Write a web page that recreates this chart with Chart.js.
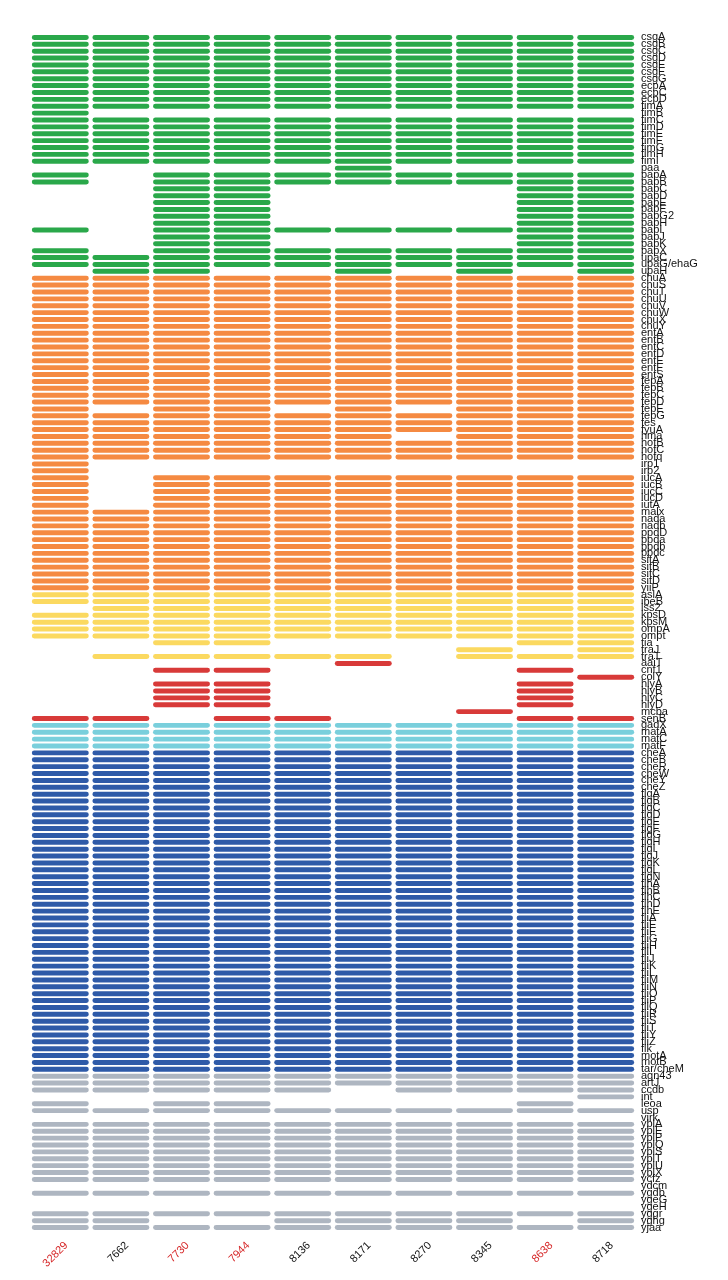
<!DOCTYPE html>
<html>
<head>
<meta charset="utf-8">
<script src="https://cdn.jsdelivr.net/npm/chart.js@4.4.1/dist/chart.umd.min.js"></script>
<style>
  html, body { margin: 0; padding: 0; background: #fff; }
</style>
</head>
<body>
<canvas id="geneChart" width="728" height="1280"></canvas>
<script>
// strains (columns), red ones are highlighted on the axis
const strains = ['32829', '7662', '7730', '7944', '8136', '8171', '8270', '8345', '8638', '8718'];
const redStrains = ['32829', '7730', '7944', '8638'];

// each gene group: names + presence per strain ('1' = present)
const adhesinGenes = ['csgA','csgB','csgC','csgD','csgE','csgF','csgG','ecpA','ecpC','ecpD',
  'fimA','fimB','fimC','fimD','fimE','fimF','fimG','fimH','fimI','paa',
  'papA','papB','papC','papD','papE','papF','papG2','papH','papI','papJ','papK','papX',
  'upaC','upaG/ehaG','upaH'];
const adhesinPresence = ['1111111111','1111111111','1111111111','1111111111','1111111111','1111111111','1111111111','1111111111','1111111111','1111111111',
  '1111111111','1000000000','1111111111','1111111111','1111111111','1111111111','1111111111','1111111111','1111111111','0000010000',
  '1011111111','1011111111','0011000011','0011000011','0011000011','0011000011','0011000011','0011000011','1011111111','0011000011','0011000011','1011111111',
  '1111111111','1111111111','0110010101'];

const ironGenes = ['chuA','chuS','chuT','chuU','chuV','chuW','chuX','chuY',
  'entA','entB','entC','entD','entE','entF','entS','fepA','fepB','fepC','fepD','fepE','fepG','fes','fyuA','hma',
  'hofB','hofC','hofq','irp1','irp2','iucA','iucB','iucC','iucD','iutA','malx','nada','nadb',
  'ppdD','ppda','ppdb','ppdc','sitA','sitB','sitC','sitD','yiiP'];
const ironPresence = ['1111111111','1111111111','1111111111','1111111111','1111111111','1111111111','1111111111','1111111111',
  '1111111111','1111111111','1111111111','1111111111','1111111111','1111111111','1111111111','1111111111','1111111111','1111111111','1111111111','1011010111','1111111111','1111111111','1111111111','1111110111',
  '1111111111','1111111111','1111111111','1000000000','1000000000','1011111111','1011111111','1011111111','1011111111','1011111111','1111111111','1111111111','1111111111',
  '1111111111','1111111111','1111111111','1111111111','1111111111','1111111111','1111111111','1111111111','1111111111'];

const invasionGenes = ['aslA','ibeB','iss2','kpsD','kpsM','ompA','ompt','tia','traJ','traT'];
const invasionPresence = ['1111111111','1111111111','0111111111','1111111111','1111111111','1111111111','1111111111','0011000011','0000000101','0111110111'];

const toxinGenes = ['aaiT','cnf1','colY','hlyA','hlyB','hlyC','hlyD','mcba','senB'];
const toxinPresence = ['0000010000','0011000010','0000000001','0011000010','0011000010','0011000010','0011000010','0000000100','1101100011'];

const regulationGenes = ['gadX','matA','matC','matF'];
const regulationPresence = ['1111111111','1111111111','1111111111','1111111111'];

const motilityGenes = ['cheA','cheB','cheR','cheW','cheY','cheZ',
  'flgA','flgB','flgC','flgD','flgE','flgF','flgG','flgH','flgI','flgJ','flgK','flgL','flgN',
  'flhA','flhB','flhC','flhD','flhE',
  'fliA','fliE','fliF','fliG','fliH','fliI','fliJ','fliK','fliL','fliM','fliN','fliO','fliP','fliQ','fliR','fliS','fliT','fliY','fliZ',
  'flk','motA','motB','tar/cheM'];
const motilityPresence = motilityGenes.map(() => '1111111111');

const otherGenes = ['agn43','artJ','ccdb','int','leoa','usp','virk','yblA','yblE','yblP','yblQ','yblS','yblT','yblU','yblX',
  'ycfz','ydcm','ygdb','ygeG','ygeH','yggr','yghg','yjaa'];
const otherPresence = ['1111111111','1111111111','1111101111','0000000001','1011000010','1111111111','0000000000',
  '1111111111','1111111111','1111111111','1111111111','1111111111','1111111111','1111111111','1111111111',
  '1111111111','0000000000','1111111111','0000000000','0000000000','1111111111','1100111101','1111111111'];

const groups = [
  { genes: adhesinGenes, presence: adhesinPresence, color: '#2aa84a' },
  { genes: ironGenes, presence: ironPresence, color: '#f58a42' },
  { genes: invasionGenes, presence: invasionPresence, color: '#fbd960' },
  { genes: toxinGenes, presence: toxinPresence, color: '#d83a39' },
  { genes: regulationGenes, presence: regulationPresence, color: '#79cfdc' },
  { genes: motilityGenes, presence: motilityPresence, color: '#2e5aa8' },
  { genes: otherGenes, presence: otherPresence, color: '#aeb6c1' }
];

const genes = [];
const presence = [];
const colors = [];
groups.forEach(g => {
  g.genes.forEach((name, i) => {
    genes.push(name);
    presence.push(g.presence[i]);
    colors.push(g.color);
  });
});

const datasets = strains.map((s, col) => ({
  label: s,
  data: presence.map(p => p[col] === '1' ? [col - 0.47, col + 0.47] : null),
  backgroundColor: colors,
  borderRadius: 3,
  borderSkipped: false,
  barPercentage: 0.72,
  categoryPercentage: 1,
  grouped: false
}));

const labelFont = { family: 'Liberation Sans, Arial, sans-serif', size: 11 };

const ctx = document.getElementById('geneChart').getContext('2d');
new Chart(ctx, {
  type: 'bar',
  data: { labels: genes, datasets: datasets },
  options: {
    indexAxis: 'y',
    responsive: false,
    animation: false,
    layout: { padding: { left: 30, top: 34, right: 0, bottom: 0 } },
    plugins: {
      legend: { display: false },
      tooltip: { enabled: false }
    },
    scales: {
      y: {
        type: 'category',
        position: 'right',
        grid: { display: false, drawTicks: false },
        border: { display: false },
        afterFit: scale => { scale.width = 92; },
        ticks: {
          autoSkip: false,
          padding: 5,
          color: '#111',
          font: labelFont
        }
      },
      x: {
        type: 'linear',
        display: false,
        min: -0.5,
        max: 9.5
      },
      // strain names sit in the middle of each column
      strain: {
        type: 'category',
        labels: strains,
        position: 'bottom',
        offset: true,
        grid: { display: false, drawTicks: false },
        border: { display: false },
        afterFit: scale => { scale.height = 49; },
        ticks: {
          autoSkip: false,
          minRotation: 45,
          maxRotation: 45,
          padding: 8,
          labelOffset: 6,
          font: labelFont,
          color: c => redStrains.includes(strains[c.index]) ? '#d62728' : '#111'
        }
      }
    }
  }
});
</script>
</body>
</html>
